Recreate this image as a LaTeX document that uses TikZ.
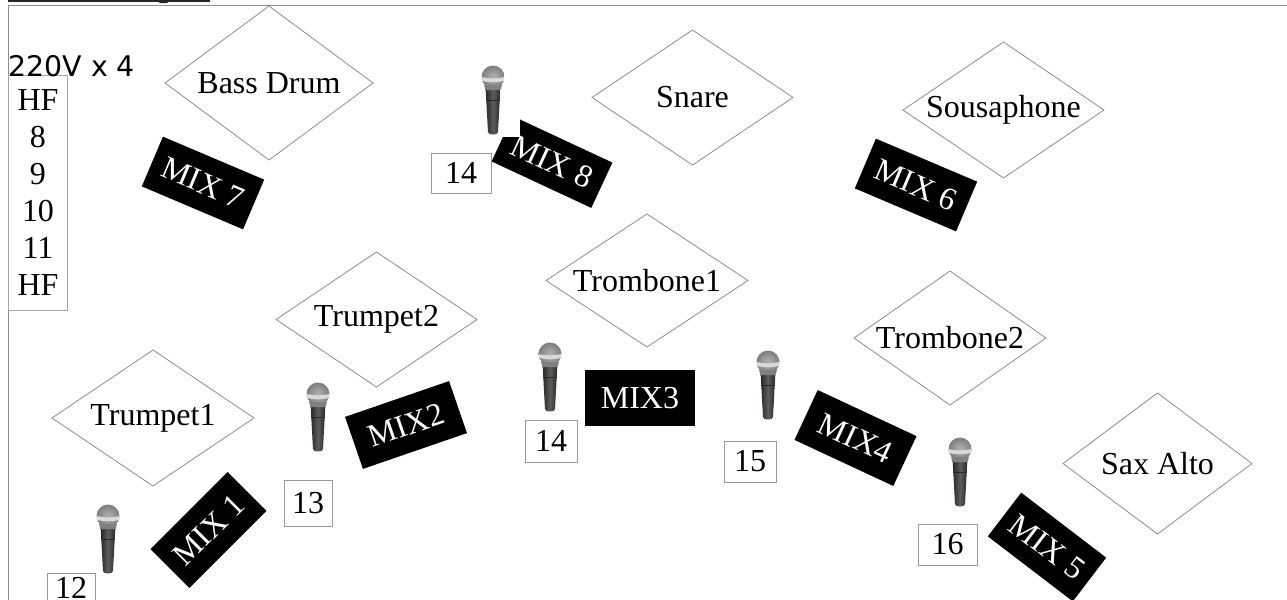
\documentclass[tikz,border=0pt]{standalone}
\usepackage{fontspec}
\setmainfont{Liberation Serif}
\newfontfamily\djv{DejaVu Sans}
\usetikzlibrary{shapes.geometric}
\definecolor{edge}{HTML}{8C8C8C}
\definecolor{micdark}{HTML}{2A2826}
\definecolor{micmid}{HTML}{5E5C59}
\definecolor{michead}{HTML}{7E7E7E}
\definecolor{micband}{HTML}{DADADA}
\tikzset{
  txt/.style={font=\fontsize{16}{18}\selectfont,inner sep=0pt},
  stage/.style={draw=edge,line width=0.4pt,fill=none},
  mixbox/.style={fill=black,text=white,txt},
  numbox/.style={draw=black!40,line width=0.4pt,fill=white,txt},
  pics/mic/.style={code={
    \shade[left color=micdark,right color=micdark,middle color=micmid]
      (-7.5,20) -- (7.5,20) -- (5,66) to[out=-90,in=0] (0,68.5) to[out=180,in=-90] (-5,66) -- cycle;
    \draw[micdark,line width=0.3pt] (-6.8,34) -- (6.8,34);
    \shade[inner color=black!30,outer color=michead] (0,11) circle[radius=11.5];
    \fill[micband] (-11.4,11) to[out=-12,in=192] (11.4,11) -- (11,15) to[out=192,in=-12] (-11,15) -- cycle;
    \fill[black!50] (-9,19) -- (9,19) -- (7.5,24) -- (-7.5,24) -- cycle;
  }}
}
\begin{document}
\begin{tikzpicture}[x=0.5pt,y=-0.5pt]
\useasboundingbox (0,0) rectangle (1287,600);
% clipped title remnant
\fill[black!85] (8,0) rectangle (210,2);
\fill[black!85] (157,0) -- (170,0) -- (167,3) -- (160,3) -- cycle;
% frame
\coordinate (frameTL) at (8,5.5); \coordinate (frameTR) at (1287,5.5); \coordinate (frameBL) at (8,600);
\draw[edge,line width=0.5pt] (frameBL) -- (frameTL) -- (frameTR);
% diamonds
\foreach \nm/\txt/\l/\t/\r/\b in {
  bass/Bass Drum/165/6/373/160,
  snare/Snare/592/30/793/165,
  sousa/Sousaphone/903/42/1104/178,
  tb1/Trombone1/546/214/748/347,
  tp2/Trumpet2/276/252/477/387,
  tb2/Trombone2/854/271/1046/405,
  tp1/Trumpet1/52/350/254/486,
  sax/Sax Alto/1063/393/1252/534}{
  \pgfmathsetmacro{\cx}{(\l+\r)/2}
  \pgfmathsetmacro{\cy}{(\t+\b)/2}
  \coordinate (\nm-w) at (\l,\cy); \coordinate (\nm-n) at (\cx,\t);
  \coordinate (\nm-e) at (\r,\cy); \coordinate (\nm-s) at (\cx,\b);
  \draw[stage] (\nm-w) -- (\nm-n) -- (\nm-e) -- (\nm-s) -- cycle;
  \node[txt] (\nm) at (\cx,\cy) {\txt};
}
% power box
\node[draw=black!35,line width=0.5pt,fill=white,anchor=north west,inner sep=0pt,minimum width=29.5pt,minimum height=117.5pt] (hf) at (8.3,74.5) {};
\foreach \i/\t in {0/HF,1/8,2/9,3/10,4/11,5/HF}
  \node[txt] (hf\i) at (38,{100+\i*37}) {\t};
\node[font=\djv\fontsize{14.2}{18}\selectfont,inner sep=0pt,anchor=base west] (pwr) at (8,76) {220V x 4};
% mix labels
\node[mixbox,rotate=-23,minimum width=55pt,minimum height=27pt] (m7) at (203,183) {MIX 7};
\node[mixbox,rotate=-23,minimum width=55pt,minimum height=27pt] (m6) at (916,185) {MIX 6};
\node[mixbox,rotate=-25,minimum width=55pt,minimum height=25pt] (m8) at (552,162) {};
\fill[white] (496,110) rectangle (520,137);
\node[txt,text=white,rotate=-25] (m8t) at (552,162) {MIX 8};
\node[mixbox,rotate=19,minimum width=55pt,minimum height=27.5pt] (m2) at (406,425) {MIX2};
\node[mixbox,minimum width=55pt,minimum height=28pt] (m3) at (640,398) {MIX3};
\node[mixbox,rotate=-25,minimum width=54.5pt,minimum height=27.5pt] (m4) at (855.5,438) {MIX4};
\node[mixbox,rotate=-37.4,minimum width=53.5pt,minimum height=27.5pt] (m5) at (1047,547) {MIX 5};
\node[mixbox,rotate=45,minimum width=54.5pt,minimum height=27.5pt] (m1) at (208.5,530) {MIX 1};
% numbers
\node[numbox,minimum width=30pt,minimum height=20pt] (n14a) at (461,173) {14};
\node[numbox,minimum width=26pt,minimum height=21pt] (n14b) at (551,441) {14};
\node[numbox,minimum width=26pt,minimum height=20.5pt] (n15) at (750,461.5) {15};
\node[numbox,minimum width=24pt,minimum height=23pt] (n13) at (308,503) {13};
\node[numbox,minimum width=29.5pt,minimum height=20.5pt] (n16) at (947.5,544.5) {16};
\node[numbox,minimum width=24pt,minimum height=15pt] (n12) at (71,588) {12};
% microphones
\path (493,66) pic {mic};
\path (318,383) pic {mic};
\path (550,343) pic {mic};
\path (768,351) pic {mic};
\path (960,438) pic {mic};
\path (108,505) pic {mic};
\end{tikzpicture}
\end{document}
